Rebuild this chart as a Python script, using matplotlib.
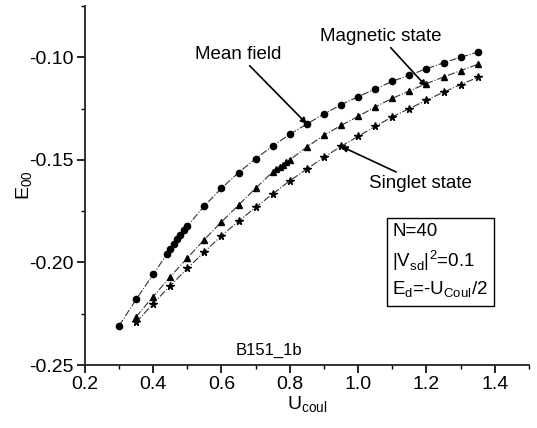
import numpy as np
import matplotlib
matplotlib.use("Agg")
import matplotlib.pyplot as plt
from matplotlib.ticker import MultipleLocator

plt.rcParams['font.family'] = ['Liberation Sans', 'DejaVu Sans']

# Mean field (circles)
u_mean = [0.30, 0.35, 0.40, 0.44, 0.45, 0.46, 0.47, 0.48, 0.49, 0.50, 0.55, 0.60,
          0.65, 0.70, 0.75, 0.80, 0.85, 0.90, 0.95, 1.00, 1.05, 1.10, 1.15, 1.20,
          1.25, 1.30, 1.35]
e_mean = [-0.2309, -0.2180, -0.2058, -0.1960, -0.1935, -0.1910, -0.1887, -0.1864,
          -0.1843, -0.1822, -0.1724, -0.1638, -0.1562, -0.1494, -0.1432, -0.1375,
          -0.1325, -0.1276, -0.1231, -0.1192, -0.1155, -0.1117, -0.1087, -0.1056,
          -0.1027, -0.1000, -0.0975]

# Magnetic state (triangles)
u_mag = [0.35, 0.40, 0.45, 0.50, 0.55, 0.60, 0.65, 0.70, 0.75, 0.76, 0.77, 0.78,
         0.79, 0.80, 0.85, 0.90, 0.95, 1.00, 1.05, 1.10, 1.15, 1.20, 1.25, 1.30, 1.35]
e_mag = [-0.2265, -0.2166, -0.2070, -0.1978, -0.1888, -0.1802, -0.1720, -0.1638,
         -0.1558, -0.1546, -0.1534, -0.1523, -0.1512, -0.1500, -0.1437, -0.1380,
         -0.1332, -0.1288, -0.1242, -0.1200, -0.1164, -0.1128, -0.1096, -0.1065,
         -0.1034]

# Singlet state (stars)
u_sing = [0.35, 0.40, 0.45, 0.50, 0.55, 0.60, 0.65, 0.70, 0.75, 0.80, 0.85, 0.90,
          0.95, 1.00, 1.05, 1.10, 1.15, 1.20, 1.25, 1.30, 1.35]
e_sing = [-0.2292, -0.2200, -0.2114, -0.2029, -0.1948, -0.1870, -0.1799, -0.1731,
          -0.1666, -0.1602, -0.1544, -0.1487, -0.1434, -0.1385, -0.1337, -0.1290,
          -0.1250, -0.1209, -0.1170, -0.1133, -0.1098]

fig = plt.figure(figsize=(5.37, 4.28), dpi=100)
ax = fig.add_axes([0.158, 0.147, 0.827, 0.839])

line_kw = dict(color='#333333', linestyle='-.', linewidth=0.8)
ax.plot(u_mean, e_mean, marker='o', markersize=4.5, markerfacecolor='black',
        markeredgecolor='black', **line_kw)
ax.plot(u_mag, e_mag, marker='^', markersize=5, markerfacecolor='black',
        markeredgecolor='black', **line_kw)
ax.plot(u_sing, e_sing, marker='*', markersize=5.5, markerfacecolor='black',
        markeredgecolor='black', **line_kw)

ax.set_xlim(0.2, 1.5)
ax.set_ylim(-0.25, -0.075)
ax.xaxis.set_minor_locator(MultipleLocator(0.1))
ax.yaxis.set_minor_locator(MultipleLocator(0.025))
ax.set_yticks([-0.25, -0.20, -0.15, -0.10])
ax.set_yticklabels(['-0.25', '-0.20', '-0.15', '-0.10'])
ax.set_xticks([0.2, 0.4, 0.6, 0.8, 1.0, 1.2, 1.4])
ax.set_xticklabels(['0.2', '0.4', '0.6', '0.8', '1.0', '1.2', '1.4'])

for s in ['top', 'right']:
    ax.spines[s].set_visible(False)
for s in ['left', 'bottom']:
    ax.spines[s].set_linewidth(1.3)
    ax.spines[s].set_color('#222222')
ax.tick_params(which='major', direction='out', length=6, width=1.2, labelsize=14,
               pad=2)
ax.tick_params(which='minor', direction='out', length=3, width=1.0)

ax.set_xlabel(r'U$_{\mathregular{coul}}$', fontsize=14, labelpad=1)
ax.set_ylabel(r'E$_{\mathregular{00}}$', fontsize=14, labelpad=-4)

arrow = dict(arrowstyle='-|>', color='black', linewidth=1.2, mutation_scale=9,
             shrinkA=0, shrinkB=0)
ax.annotate('Mean field', xy=(u_mean[16], e_mean[16]), xytext=(0.65, -0.0986),
            ha='center', va='center', fontsize=13.5, arrowprops=arrow)
ax.annotate('Magnetic state', xy=(u_mag[21], e_mag[21] - 0.0015), xytext=(1.065, -0.0898),
            ha='center', va='center', fontsize=13.5, arrowprops=arrow)
ax.annotate('Singlet state', xy=(u_sing[12], e_sing[12]), xytext=(1.182, -0.1614),
            ha='center', va='center', fontsize=13.5, arrowprops=arrow)

box_text = ('N=40\n'
            r'|V$_{\mathregular{sd}}$|$^{\mathregular{2}}$=0.1' '\n'
            r'E$_{\mathregular{d}}$=-U$_{\mathregular{Coul}}$/2')
ax.text(1.10, -0.1994, box_text, fontsize=13.5, ha='left', va='center',
        linespacing=1.45,
        bbox=dict(boxstyle='square,pad=0.3', facecolor='white', edgecolor='black',
                  linewidth=1.0))

ax.text(0.74, -0.2427, 'B151_1b', fontsize=12, ha='center', va='center')

fig.savefig('out.png', dpi=100)
